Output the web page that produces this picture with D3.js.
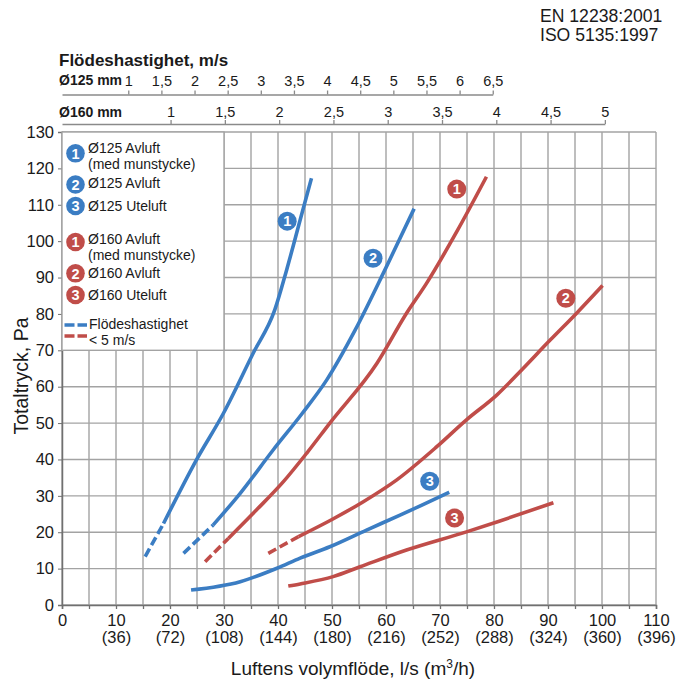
<!DOCTYPE html>
<html>
<head>
<meta charset="utf-8">
<script src="https://cdn.jsdelivr.net/npm/d3@7"></script>
<style>
  body { margin: 0; background: #fff; }
  svg text { font-family: "Liberation Sans", Arial, sans-serif; fill: #1a1a1a; }
</style>
</head>
<body>
<div id="chart"></div>
<script>
// flow l/s vs total pressure Pa
var flowTicks = [0, 10, 20, 30, 40, 50, 60, 70, 80, 90, 100, 110];
var m3hLabels = ["", "(36)", "(72)", "(108)", "(144)", "(180)", "(216)", "(252)", "(288)", "(324)", "(360)", "(396)"];
var paTicks = [0, 10, 20, 30, 40, 50, 60, 70, 80, 90, 100, 110, 120, 130];
var v125Ticks = [1, 1.5, 2, 2.5, 3, 3.5, 4, 4.5, 5, 5.5, 6, 6.5];
var v160Ticks = [1, 1.5, 2, 2.5, 3, 3.5, 4, 4.5, 5];

var blue1Dash = [[15.4, 13.3], [18.8, 22.4]];
var blue1 = [[18.8, 22.4], [24.9, 39.9], [29.9, 52.7], [35.4, 69.2], [39.4, 81.1], [41.6, 92.1], [44.1, 105.8], [46.2, 117.3]];
var blue2Dash = [[22.5, 14.2], [28, 22]];
var blue2 = [[28, 22], [33, 30.7], [39.1, 42.6], [44.4, 52.5], [49, 61.8], [54.3, 75.6], [59.8, 92.1], [65.2, 108.9]];
var blue3 = [[23.9, 4.1], [33, 6.4], [39.8, 10.1], [44.1, 12.9], [49.6, 16], [56.4, 20.6], [62.6, 24.7], [71.7, 31]];
var red1Dash = [[26.5, 11.9], [30.8, 18.3]];
var red1 = [[30.8, 18.3], [36, 26.1], [41, 33.9], [45.3, 41.7], [49.6, 50], [58.3, 66.4], [63.8, 80.2], [67.5, 88.4], [73.1, 102.6], [78.6, 117.7]];
var red2Dash = [[38.2, 14.2], [43.8, 18.8]];
var red2 = [[43.8, 18.8], [50, 23.5], [55.8, 28.4], [62, 34.4], [69.4, 43.5], [74.9, 50.9], [80.5, 57.7], [84.8, 64.1], [90.4, 72.8], [95.3, 80.2], [100.1, 87.8]];
var red3 = [[41.9, 5.2], [44.1, 5.8], [50.2, 7.8], [55.2, 10.5], [63.8, 15.1], [74.9, 20.1], [81.1, 23.1], [91, 28.1]];

// badge positions on the curves [flow, Pa]
var badgeNums = ["1", "2", "3", "1", "2", "3"];
var badgePos = [[41.7, 105.5], [57.6, 95.3], [68.1, 34.0], [73.1, 114.3], [93.3, 84.3], [72.7, 23.9]];

var legendNames = ["Ø125 Avluft", "Ø125 Avluft", "Ø125 Uteluft", "Ø160 Avluft", "Ø160 Avluft", "Ø160 Uteluft"];

var BLUE = "#3b7dc3";
var RED = "#c04d49";
var GRID = "#a3a3a3";

var svg = d3.select("#chart").append("svg")
  .attr("width", 677)
  .attr("height", 684);

var x = d3.scaleLinear().domain([0, 110]).range([62, 656]);
var y = d3.scaleLinear().domain([0, 130]).range([605, 132]);

// grid
var grid = svg.append("g");
grid.selectAll("line.v")
  .data(d3.range(0, 111, 5))
  .enter().append("line")
  .attr("x1", d => x(d)).attr("x2", d => x(d))
  .attr("y1", y(0)).attr("y2", y(130))
  .attr("stroke", GRID).attr("stroke-width", 1.4);
grid.selectAll("line.h")
  .data(paTicks)
  .enter().append("line")
  .attr("x1", x(0)).attr("x2", x(110))
  .attr("y1", d => y(d)).attr("y2", d => y(d))
  .attr("stroke", GRID).attr("stroke-width", 1.4);

// axes
var leftAxis = d3.axisLeft(y).tickValues(paTicks).tickSize(4).tickPadding(4);
var gy = svg.append("g").attr("transform", `translate(${x(0)},0)`).call(leftAxis);
gy.selectAll("text").style("font-size", "16.5px");
gy.select(".domain").attr("stroke", "#707070").attr("stroke-width", 1.5);
gy.selectAll(".tick line").attr("stroke", "#707070");

var bottomAxis = d3.axisBottom(x)
  .tickValues(d3.range(0, 111, 5))
  .tickSize(4).tickPadding(5)
  .tickFormat(d => flowTicks.indexOf(d) >= 0 ? d : "");
var gx = svg.append("g").attr("transform", `translate(0,${y(0)})`).call(bottomAxis);
gx.selectAll("text").style("font-size", "16.5px");
gx.select(".domain").attr("stroke", "#707070").attr("stroke-width", 1.5);
gx.selectAll(".tick line").attr("stroke", "#707070").attr("stroke-width", 1.3);
gx.selectAll(".tick").append("text")
  .attr("y", 38)
  .attr("fill", "#1a1a1a")
  .style("font-size", "16.5px")
  .text(d => flowTicks.indexOf(d) >= 0 ? m3hLabels[flowTicks.indexOf(d)] : "");

svg.append("text")
  .attr("x", 353).attr("y", 675)
  .attr("text-anchor", "middle")
  .style("font-size", "19px")
  .html('Luftens volymflöde, l/s (m<tspan dy="-7" style="font-size:12px">3</tspan><tspan dy="7">/h)</tspan>');

svg.append("text")
  .attr("transform", "translate(28,376) rotate(-90)")
  .attr("text-anchor", "middle")
  .style("font-size", "19.5px")
  .text("Totaltryck, Pa");

// top velocity axes: Q = v * area
var area125 = Math.PI * 0.0625 * 0.0625 * 1000;
var area160 = Math.PI * 0.08 * 0.08 * 1000;
var top125 = d3.scaleLinear().domain([0, 6.5]).range([x(0), x(6.5 * area125)]);
var top160 = d3.scaleLinear().domain([0, 5]).range([x(0), x(5 * area160)]);
var fmt = d => String(d).replace(".", ",");

var g125 = svg.append("g").attr("transform", "translate(0,94.5)")
  .call(d3.axisTop(top125).tickValues(v125Ticks).tickSize(4).tickPadding(5).tickSizeOuter(0).tickFormat(fmt));
var g160 = svg.append("g").attr("transform", "translate(0,124)")
  .call(d3.axisTop(top160).tickValues(v160Ticks).tickSize(4).tickPadding(3.5).tickSizeOuter(0).tickFormat(fmt));
[g125, g160].forEach(function(g) {
  g.selectAll("text").style("font-size", "14.5px");
  g.select(".domain").attr("stroke", "#8a8a8a").attr("stroke-width", 1.5);
  g.selectAll(".tick line").attr("stroke", "#8a8a8a").attr("stroke-width", 1.3);
});

svg.append("text").attr("x", 59).attr("y", 65.5)
  .style("font-size", "17px").style("font-weight", "bold")
  .text("Flödeshastighet, m/s");
svg.append("text").attr("x", 59).attr("y", 85)
  .style("font-size", "14px").style("font-weight", "bold")
  .text("Ø125 mm");
svg.append("text").attr("x", 59).attr("y", 116.5)
  .style("font-size", "14px").style("font-weight", "bold")
  .text("Ø160 mm");

svg.append("text").attr("x", 540).attr("y", 22)
  .style("font-size", "17.6px").text("EN 12238:2001");
svg.append("text").attr("x", 540).attr("y", 41)
  .style("font-size", "17.6px").text("ISO 5135:1997");

// curves
var line = d3.line()
  .x(d => x(d[0]))
  .y(d => y(d[1]))
  .curve(d3.curveMonotoneX);

var curves = [
  [blue1, BLUE, false], [blue2, BLUE, false], [blue3, BLUE, false],
  [red1, RED, false], [red2, RED, false], [red3, RED, false],
  [blue1Dash, BLUE, true], [blue2Dash, BLUE, true],
  [red1Dash, RED, true], [red2Dash, RED, true]
];
svg.append("g").selectAll("path")
  .data(curves)
  .enter().append("path")
  .attr("d", d => line(d[0]))
  .attr("fill", "none")
  .attr("stroke", d => d[1])
  .attr("stroke-width", 3.6)
  .attr("stroke-dasharray", d => d[2] ? "9,4" : null);

function badge(g, cx, cy, r, col, num) {
  g.append("circle").attr("cx", cx).attr("cy", cy).attr("r", r).attr("fill", col);
  g.append("text").attr("x", cx).attr("y", cy + 5.2)
    .attr("text-anchor", "middle")
    .style("fill", "#fff").style("font-size", "14.5px").style("font-weight", "bold")
    .text(num);
}

var badges = svg.append("g");
badgePos.forEach(function(p, i) {
  badge(badges, x(p[0]), y(p[1]), 9.5, i < 3 ? BLUE : RED, badgeNums[i]);
});

// legend box
var lg = svg.append("g");
lg.append("rect")
  .attr("x", x(0)).attr("y", y(130))
  .attr("width", x(30) - x(0)).attr("height", y(70) - y(130))
  .attr("fill", "#fff").attr("stroke", GRID).attr("stroke-width", 1.4);

var badgeY = [153.3, 184.5, 206, 242, 273.3, 295];
var textY = [153, 188.3, 210.7, 244, 278.3, 300];
legendNames.forEach(function(name, i) {
  badge(lg, 75.5, badgeY[i], 9.3, i < 3 ? BLUE : RED, badgeNums[i]);
  lg.append("text").attr("x", 88).attr("y", textY[i])
    .style("font-size", "14px").text(name);
});
lg.append("text").attr("x", 88).attr("y", 169).style("font-size", "14px").text("(med munstycke)");
lg.append("text").attr("x", 88).attr("y", 260).style("font-size", "14px").text("(med munstycke)");

lg.append("line").attr("x1", 64.5).attr("x2", 87).attr("y1", 325).attr("y2", 325)
  .attr("stroke", BLUE).attr("stroke-width", 3.6).attr("stroke-dasharray", "10,3");
lg.append("line").attr("x1", 64.5).attr("x2", 87).attr("y1", 336).attr("y2", 336)
  .attr("stroke", RED).attr("stroke-width", 3.6).attr("stroke-dasharray", "10,3");
lg.append("text").attr("x", 89).attr("y", 328.5).style("font-size", "14px").text("Flödeshastighet");
lg.append("text").attr("x", 89).attr("y", 344.5).style("font-size", "14px").text("< 5 m/s");
</script>
</body>
</html>
